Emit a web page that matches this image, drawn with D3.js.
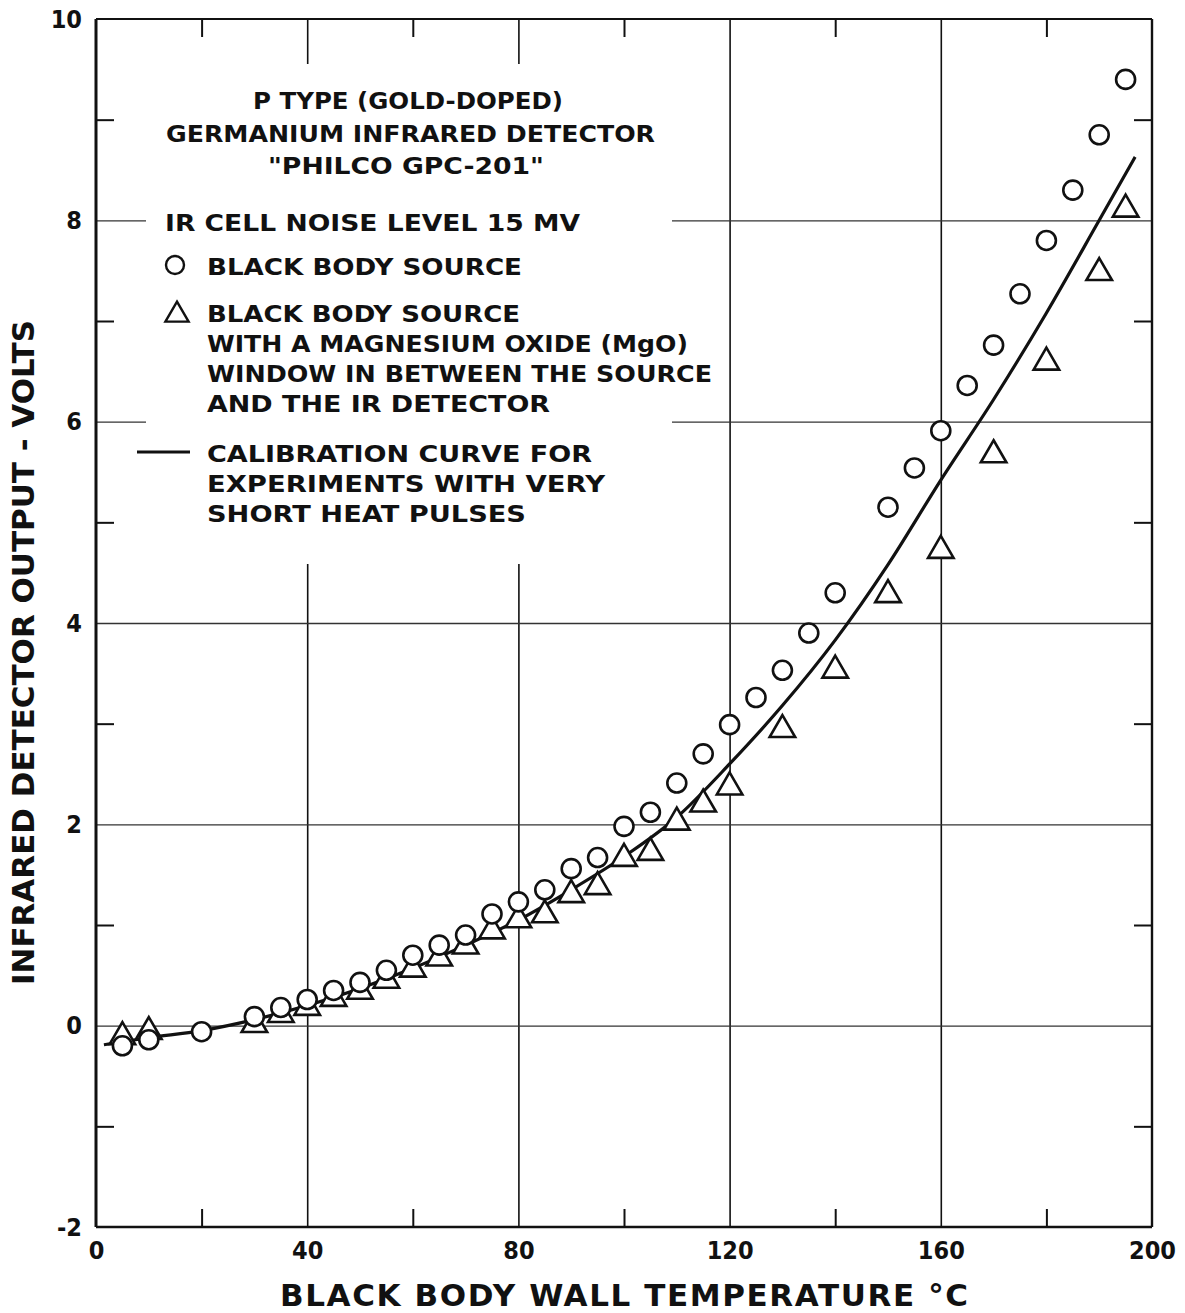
<!DOCTYPE html>
<html>
<head>
<meta charset="utf-8">
<script src="https://cdn.jsdelivr.net/npm/d3@7"></script>
<style>
  html, body { margin: 0; padding: 0; background: #fff; }
  svg { display: block; }
  .lbl { font-family: "DejaVu Sans Condensed", "DejaVu Sans", sans-serif; font-weight: bold; fill: #111; }
  .txt { font-family: "DejaVu Sans", sans-serif; font-weight: bold; fill: #111; }
</style>
</head>
<body>
<svg id="chart" width="1185" height="1313"></svg>
<script>
// ---- data ----
const xTicks = [0, 40, 80, 120, 160, 200];
const xMinorTicks = [20, 60, 100, 140, 180];
const yTicks = [-2, 0, 2, 4, 6, 8, 10];
const yMinorTicks = [-1, 1, 3, 5, 7, 9];
const xGrid = [40, 80, 120, 160];
const yGrid = [0, 2, 4, 6, 8];

// Black body source (circles)
const circleT = [5, 10, 20, 30, 35, 40, 45, 50, 55, 60, 65, 70, 75, 80, 85, 90, 95, 100, 105, 110, 115, 120, 125, 130, 135, 140, 150, 155, 160, 165, 170, 175, 180, 185, 190, 195];
const circleV = [-0.20, -0.14, -0.06, 0.09, 0.18, 0.26, 0.35, 0.43, 0.55, 0.70, 0.80, 0.90, 1.11, 1.23, 1.35, 1.56, 1.67, 1.98, 2.12, 2.41, 2.70, 2.99, 3.26, 3.53, 3.90, 4.30, 5.15, 5.54, 5.91, 6.36, 6.76, 7.27, 7.80, 8.30, 8.85, 9.40];

// Black body source with MgO window (triangles)
const triT = [5, 10, 30, 35, 40, 45, 50, 55, 60, 65, 70, 75, 80, 85, 90, 95, 100, 105, 110, 115, 120, 130, 140, 150, 160, 170, 180, 190, 195];
const triV = [-0.10, -0.05, 0.02, 0.12, 0.19, 0.28, 0.35, 0.46, 0.57, 0.68, 0.80, 0.95, 1.06, 1.11, 1.31, 1.39, 1.67, 1.73, 2.03, 2.21, 2.38, 2.95, 3.54, 4.29, 4.73, 5.68, 6.60, 7.49, 8.12];

// Calibration curve
const curveT = [1.5, 10, 20, 30, 40, 50, 60, 70, 80, 90, 100, 110, 120, 130, 140, 150, 160, 170, 180, 190, 196.8];
const curveV = [-0.19, -0.12, -0.05, 0.06, 0.20, 0.37, 0.57, 0.80, 1.05, 1.35, 1.68, 2.07, 2.60, 3.18, 3.83, 4.58, 5.42, 6.22, 7.08, 8.00, 8.63];

const titleLines = ["P TYPE (GOLD-DOPED)", "GERMANIUM INFRARED DETECTOR", "\"PHILCO GPC-201\""];
const noiseText = "IR CELL NOISE LEVEL 15 MV";
const circleLegend = ["BLACK BODY SOURCE"];
const triLegend = ["BLACK BODY SOURCE", "WITH A MAGNESIUM OXIDE (MgO)", "WINDOW IN BETWEEN THE SOURCE", "AND THE IR DETECTOR"];
const lineLegend = ["CALIBRATION CURVE FOR", "EXPERIMENTS WITH VERY", "SHORT HEAT PULSES"];
const xTitle = "BLACK BODY WALL TEMPERATURE °C";
const yTitle = "INFRARED DETECTOR OUTPUT - VOLTS";

// ---- drawing ----
const svg = d3.select("#chart");
const L = 96, R = 1152, T = 19, B = 1227;
const x = d3.scaleLinear().domain([0, 200]).range([L, R]);
const y = d3.scaleLinear().domain([-2, 10]).range([B, T]);
const ink = "#111";

// grid lines
svg.append("g").attr("transform", `translate(0,${B})`)
  .call(d3.axisBottom(x).tickValues(xGrid).tickSize(-(B - T)).tickFormat(""))
  .call(g => g.select(".domain").remove())
  .selectAll("line").attr("stroke", ink).attr("stroke-width", 1.6);
svg.append("g").attr("transform", `translate(${L},0)`)
  .call(d3.axisLeft(y).tickValues(yGrid).tickSize(-(R - L)).tickFormat(""))
  .call(g => g.select(".domain").remove())
  .selectAll("line").attr("stroke", "#333").attr("stroke-width", 1.4);

// white legend backdrop hides the grid
svg.append("rect").attr("x", 146).attr("y", 64).attr("width", 526).attr("height", 500).attr("fill", "#fff");

// minor ticks
const tl = 18;
svg.append("g").attr("transform", `translate(0,${B})`)
  .call(d3.axisBottom(x).tickValues(xMinorTicks).tickSize(-tl).tickFormat(""))
  .call(g => g.select(".domain").remove())
  .selectAll("line").attr("stroke", ink).attr("stroke-width", 2);
svg.append("g").attr("transform", `translate(0,${T})`)
  .call(d3.axisTop(x).tickValues(xMinorTicks).tickSize(-tl).tickFormat(""))
  .call(g => g.select(".domain").remove())
  .selectAll("line").attr("stroke", ink).attr("stroke-width", 2);
svg.append("g").attr("transform", `translate(${L},0)`)
  .call(d3.axisLeft(y).tickValues(yMinorTicks).tickSize(-tl).tickFormat(""))
  .call(g => g.select(".domain").remove())
  .selectAll("line").attr("stroke", ink).attr("stroke-width", 2);
svg.append("g").attr("transform", `translate(${R},0)`)
  .call(d3.axisRight(y).tickValues(yMinorTicks).tickSize(-tl).tickFormat(""))
  .call(g => g.select(".domain").remove())
  .selectAll("line").attr("stroke", ink).attr("stroke-width", 2);

// frame
svg.append("line").attr("x1", L).attr("x2", R).attr("y1", T).attr("y2", T).attr("stroke", ink).attr("stroke-width", 2.2);
svg.append("line").attr("x1", R).attr("x2", R).attr("y1", T).attr("y2", B).attr("stroke", ink).attr("stroke-width", 2.4);
svg.append("line").attr("x1", L).attr("x2", R).attr("y1", B).attr("y2", B).attr("stroke", ink).attr("stroke-width", 2.6);
svg.append("line").attr("x1", L).attr("x2", L).attr("y1", T).attr("y2", B).attr("stroke", ink).attr("stroke-width", 3);

// tick labels
const fmt = d => String(d);
const xAx = svg.append("g").attr("transform", `translate(0,${B})`)
  .call(d3.axisBottom(x).tickValues(xTicks).tickSize(0).tickPadding(14).tickFormat(fmt));
xAx.select(".domain").remove();
xAx.selectAll("text").attr("class", "lbl").attr("font-size", 25).attr("fill", ink)
  .attr("font-family", null).attr("dy", "0.71em");
const yAx = svg.append("g").attr("transform", `translate(${L},0)`)
  .call(d3.axisLeft(y).tickValues(yTicks).tickSize(0).tickPadding(14).tickFormat(fmt));
yAx.select(".domain").remove();
yAx.selectAll("text").attr("class", "lbl").attr("font-size", 25).attr("fill", ink).attr("font-family", null);

// axis titles
svg.append("text").attr("class", "txt").attr("x", 280).attr("y", 1306)
  .attr("font-size", 31).attr("textLength", 688).attr("lengthAdjust", "spacing").text(xTitle);
svg.append("text").attr("class", "txt")
  .attr("transform", `translate(34,985) rotate(-90)`)
  .attr("font-size", 30).attr("textLength", 665).attr("lengthAdjust", "spacingAndGlyphs").text(yTitle);

// calibration curve
const curveData = curveT.map((t, i) => [t, curveV[i]]);
svg.append("path").datum(curveData)
  .attr("d", d3.line().x(d => x(d[0])).y(d => y(d[1])).curve(d3.curveMonotoneX))
  .attr("fill", "none").attr("stroke", ink).attr("stroke-width", 3.2);

// markers
const triPath = s => `M0,${-s * 0.62}L${s * 0.58},${s * 0.38}L${-s * 0.58},${s * 0.38}Z`;
svg.append("g").selectAll("path").data(triT.map((t, i) => [t, triV[i]])).join("path")
  .attr("transform", d => `translate(${x(d[0])},${y(d[1])})`)
  .attr("d", triPath(22)).attr("fill", "#fff").attr("stroke", ink).attr("stroke-width", 2.6).attr("stroke-linejoin", "miter");
svg.append("g").selectAll("circle").data(circleT.map((t, i) => [t, circleV[i]])).join("circle")
  .attr("cx", d => x(d[0])).attr("cy", d => y(d[1])).attr("r", 9.5)
  .attr("fill", "#fff").attr("stroke", ink).attr("stroke-width", 2.6);

// legend / annotation text
const tf = 23.5;
const addText = (s, px, py, w) => svg.append("text").attr("class", "txt").attr("x", px).attr("y", py)
  .attr("font-size", tf).attr("textLength", w).attr("lengthAdjust", "spacingAndGlyphs").text(s);
const titleSpecs = [[253, 109, 310], [166, 142, 489], [268, 174, 276]];
titleLines.forEach((s, i) => addText(s, titleSpecs[i][0], titleSpecs[i][1], titleSpecs[i][2]));
addText(noiseText, 165, 231, 415);

// circle legend
svg.append("circle").attr("cx", 175).attr("cy", 265).attr("r", 9).attr("fill", "#fff").attr("stroke", ink).attr("stroke-width", 2.4);
addText(circleLegend[0], 207, 275, 315);

// triangle legend
svg.append("path").attr("transform", "translate(177,314)").attr("d", triPath(20))
  .attr("fill", "#fff").attr("stroke", ink).attr("stroke-width", 2.4);
const triW = [313, 481, 505, 343];
triLegend.forEach((s, i) => addText(s, 207, 322 + i * 30, triW[i]));

// line legend
svg.append("line").attr("x1", 137).attr("x2", 190).attr("y1", 452).attr("y2", 452).attr("stroke", ink).attr("stroke-width", 3.2);
const lineW = [385, 398, 319];
lineLegend.forEach((s, i) => addText(s, 207, 462 + i * 30, lineW[i]));
</script>
</body>
</html>
